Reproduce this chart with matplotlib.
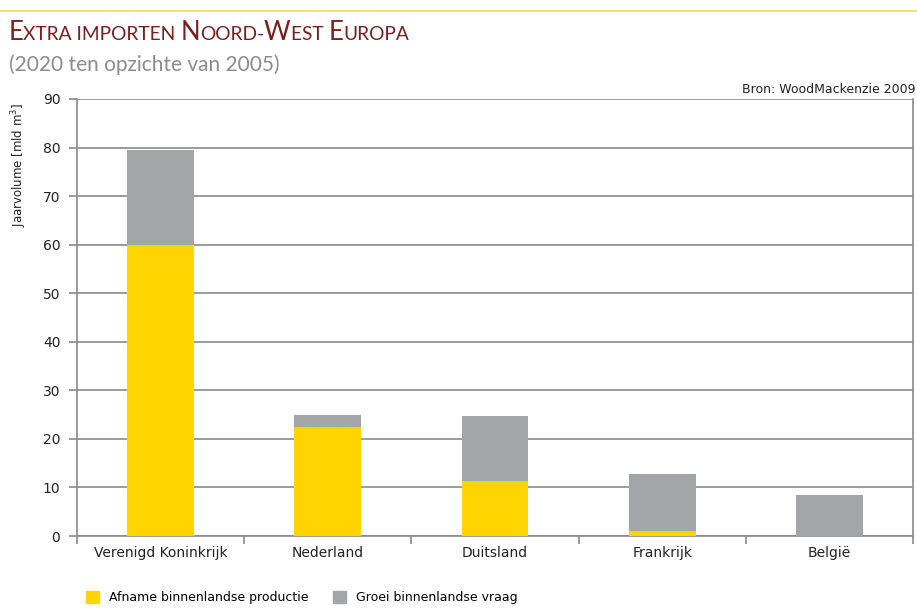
import numpy as np
import matplotlib
matplotlib.use('Agg')
import matplotlib.pyplot as plt
from matplotlib.offsetbox import TextArea, HPacker, AnchoredOffsetbox
from matplotlib.patches import Patch
from matplotlib.lines import Line2D

landen = ['Verenigd Koninkrijk', 'Nederland', 'Duitsland', 'Frankrijk', 'België']
afname_productie = [60.0, 22.4, 11.3, 1.0, 0.0]
groei_vraag = [19.5, 2.5, 13.4, 11.8, 8.5]
yticks = [0, 10, 20, 30, 40, 50, 60, 70, 80, 90]

geel = '#FFD500'
grijs = '#A4A5A8'
lijn = '#8A8A8A'
donkerrood = '#7A1E1E'

fig = plt.figure(figsize=(9.17, 6.13), dpi=100)
ax = fig.add_axes([0.084, 0.1256, 0.9116, 0.7129])

x = np.arange(len(landen))
ax.bar(x, afname_productie, width=0.4, color=geel, zorder=3)
ax.bar(x, groei_vraag, width=0.4, bottom=afname_productie, color=grijs, zorder=3)

ax.set_xlim(-0.5, len(landen) - 0.5)
ax.set_ylim(0, 90)
ax.set_yticks(yticks)
ax.yaxis.grid(True, color=lijn, linewidth=1.2, zorder=1)
ax.set_axisbelow(True)

# ticks between the categories, labels centred under the bars
ax.set_xticks(np.arange(-0.5, len(landen)), minor=False)
ax.set_xticklabels([])
ax.set_xticks(x, minor=True)
ax.set_xticklabels(landen, minor=True, fontsize=10)
ax.tick_params(axis='x', which='minor', length=0, pad=7)
ax.tick_params(axis='x', which='major', length=6, color=lijn, width=1.2)
ax.tick_params(axis='y', length=6, color=lijn, width=1.2, labelsize=10, pad=6)
for lbl in ax.get_xticklabels(minor=True) + ax.get_yticklabels():
    lbl.set_color('#222222')

for s in ax.spines.values():
    s.set_color(lijn)
    s.set_linewidth(1.2)
ax.spines['top'].set_visible(False)

fig.text(0.021, 0.731, 'Jaarvolume [mld m$^3$]', rotation=90, ha='center', va='center',
         fontsize=8.5, color='#222222')
fig.text(0.998, 0.843, 'Bron: WoodMackenzie 2009', ha='right', va='bottom',
         fontsize=9, color='#222222')

# yellow rule along the top
fig.add_artist(Line2D([0.0, 1.0], [0.982, 0.982], transform=fig.transFigure,
                      color='#EEDD66', linewidth=1.2))

# title in small caps
delen = [('E', 18.5), ('XTRA IMPORTEN ', 13.8), ('N', 18.5), ('OORD-', 13.8),
         ('W', 18.5), ('EST ', 13.8), ('E', 18.5), ('UROPA', 13.8)]
stukken = [TextArea(t, textprops=dict(fontsize=fs, color=donkerrood, family='Lato'))
           for t, fs in delen]
titel = HPacker(children=stukken, align='baseline', pad=0, sep=0)
box = AnchoredOffsetbox(loc='lower left', child=titel, pad=0, frameon=False,
                        bbox_to_anchor=(0.009, 0.926), bbox_transform=fig.transFigure,
                        borderpad=0)
fig.add_artist(box)

fig.text(0.010, 0.884, '(2020 ten opzichte van 2005)', fontsize=15, color='#8C8C8C',
         family='Lato', ha='left', va='baseline')

handles = [Patch(color=geel), Patch(color=grijs)]
fig.legend(handles, ['Afname binnenlandse productie', 'Groei binnenlandse vraag'],
           loc='lower left', bbox_to_anchor=(0.082, -0.004), ncol=2, frameon=False,
           fontsize=9, handlelength=1.0, handleheight=1.0, columnspacing=2.0,
           handletextpad=0.8)

fig.savefig('out.png', dpi=100)
